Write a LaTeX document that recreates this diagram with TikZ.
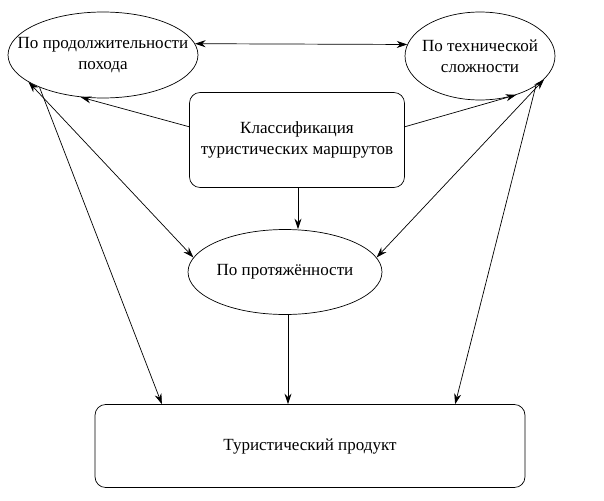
\documentclass[tikz,border=0pt]{standalone}
\usepackage{fontspec}
\setmainfont{Liberation Serif}
\usetikzlibrary{arrows.meta,positioning,calc,shapes.geometric}
\tikzset{
    arr/.style={->,>={Stealth[length=6pt,width=4pt]},thin},
    darr/.style={<->,>={Stealth[length=6pt,width=4pt]},thin},
    oval/.style={ellipse,draw,thin,inner sep=0pt},
    ovaltext/.style={label={[align=center]center:#1}},
    box/.style={rectangle,draw,thin,rounded corners=6pt,align=center},
}
\tikzstyle{every node}=[font=\fontsize{9.7}{12}\selectfont]

\begin{document}
\begin{tikzpicture}[x=0.02cm,y=-0.02cm]
    \useasboundingbox (0,0) rectangle (604,500);
    \node[oval,minimum width=3.8cm,minimum height=1.72cm,
          ovaltext={По продолжительности\\похода}] (duration) at (103,55) {};
    \node[oval,minimum width=3cm,minimum height=1.76cm,
          ovaltext={По технической\\сложности}] (complexity) at (480,56) {};
    \node[box,minimum width=4.3cm,minimum height=1.9cm] (classif) at (297,140) {Классификация\\туристических маршрутов};
    \node[oval,minimum width=3.88cm,minimum height=1.7cm,
          ovaltext={По протяжённости}] (length) at (285,272) {};
    \node[box,minimum width=8.6cm,minimum height=1.66cm] (product) at (310,446) {Туристический продукт};

    \draw[darr] (duration.7) -- (complexity.171);
    \draw[arr] (classif.173) -- (duration.242);
    \draw[arr] (classif.7) -- (complexity.313);
    \draw[arr] ($(classif.south)+(1,0)$) -- ($(classif.south |- length.north)+(1,0)$);
    \draw[darr] (duration.200) -- (length.171);
    \draw[darr] (complexity.340) -- (length.9);
    \draw[arr] (duration.207) -- ($(product.north west)!0.156!(product.north east)$);
    \draw[arr] (complexity.332) -- ($(product.north west)!0.837!(product.north east)$);
    \draw[arr] ($(length.south)+(3,0)$) -- ($(length.south |- product.north)+(3,0)$);
\end{tikzpicture}
\end{document}
